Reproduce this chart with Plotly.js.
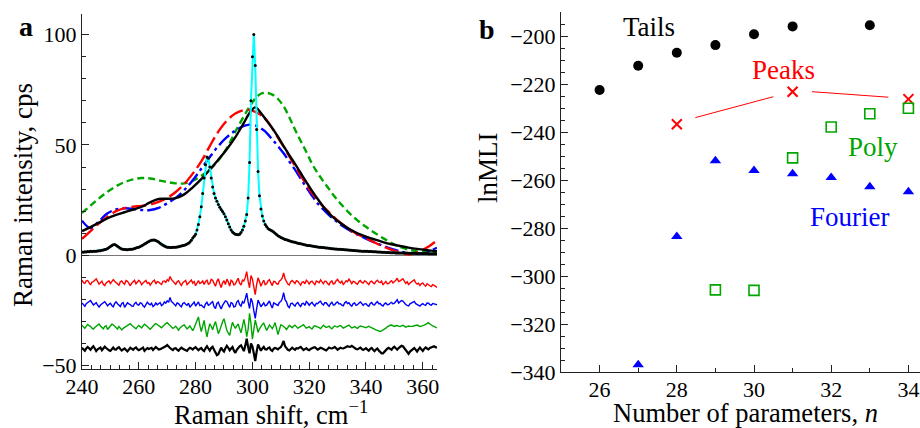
<!DOCTYPE html>
<html><head><meta charset="utf-8">
<script src="https://cdn.plot.ly/plotly-3.0.1.min.js"></script>
<style>html,body{margin:0;padding:0;background:#fff}#chart{width:920px;height:428px}</style>
</head><body><div id="chart"></div><script>
// ---------- Panel a data ----------
const specStart = 240, specStep = 0.5;
const spectrum = [
1.5,1.4,1.6,1.5,1.7,1.6,1.8,1.7,1.8,1.9,
1.9,2.0,2.1,2.1,2.3,2.4,2.6,2.8,3.1,3.5,
4.0,4.5,4.8,4.9,4.6,4.1,3.6,3.2,2.9,2.7,
2.6,2.6,2.5,2.6,2.7,2.8,2.9,3.1,3.3,3.5,
3.7,4.0,4.3,4.7,5.1,5.5,5.9,6.3,6.6,6.8,
6.9,6.9,6.7,6.4,6.0,5.5,5.0,4.6,4.2,3.9,
3.7,3.6,3.5,3.5,3.6,3.6,3.7,3.8,3.9,4.1,
4.2,4.4,4.6,4.8,5.1,5.5,6.0,6.8,7.8,8.6,
9.5,11.5,14.0,17.5,22.0,28.0,35.0,41.0,44.5,44.0,
40.0,35.0,31.0,28.0,26.0,24.5,23.0,21.8,20.8,19.8,
18.8,17.5,16.0,14.3,12.8,11.5,10.6,10.0,9.6,9.4,
9.3,9.6,10.3,11.5,13.2,15.5,18.5,26.0,42.0,70.0,
90.0,100.0,86.0,57.0,38.0,27.0,21.0,17.8,15.5,14.0,
13.0,12.2,11.7,11.3,11.0,10.6,10.0,9.4,8.9,8.5,
8.1,7.8,7.5,7.2,7.0,6.8,6.6,6.4,6.2,6.0,
5.9,5.7,5.5,5.4,5.2,5.1,4.9,4.8,4.6,4.5,
4.4,4.3,4.2,4.1,4.0,3.9,3.8,3.7,3.6,3.5,
3.5,3.4,3.3,3.3,3.2,3.1,3.0,3.0,2.9,2.9,
2.8,2.7,2.7,2.6,2.6,2.5,2.5,2.4,2.4,2.3,
2.3,2.2,2.2,2.1,2.1,2.0,2.0,1.9,1.9,1.9,
1.8,1.8,1.7,1.7,1.7,1.6,1.6,1.6,1.5,1.5,
1.5,1.4,1.4,1.4,1.3,1.3,1.3,1.2,1.2,1.2,
1.2,1.1,1.1,1.1,1.1,1.0,1.0,1.0,1.0,1.0,
0.9,0.9,0.9,0.9,0.9,0.9,0.8,0.8,0.8,0.8,
0.8,0.8,0.8,0.8,0.7,0.7,0.7,0.7,0.7,0.7,
0.7];

const fitX = [240,243,246,249,252,255,258,261,264,267,270,273,276,279,282,285,288,291,294,297,299,301,303,305,307,309,311,313,315,317,319,321,323,325,327,329,331,334,337,340,343,346,349,352,355,358,361,363,365];
const fitTails = [11,12.8,14.8,16.8,18.3,19.5,20.7,22,24,25.5,25.6,25.9,27.6,30.8,34.5,38.8,43.3,48,53.5,60,64.5,67,64.5,61,57.6,53.7,49.5,45.4,41.4,37.3,33.2,29.2,25.5,22,19,16.6,14.6,12,10,8.5,7.2,6,5,4.2,3.5,2.9,2.4,2.1,1.9];
const fitPeaks = [7.4,11,14.5,17.5,20,21.4,22,22.4,23,24.2,26,28.7,32.3,37,42.5,49.5,56,61,64.2,65.8,65.8,65,63.5,61.3,57.5,53.3,49.2,44.8,40.5,36.2,32,28.2,25,22,19.5,17,14.8,11.8,9.6,7.8,5.8,4,2.5,1.2,0.4,1.2,3.2,4.8,6.8];
const fitFourier = [15.7,12.3,15.5,19,20.8,21.3,21,20.5,20.5,21.5,23.5,26,29.5,34,39.2,44.5,49.5,53.5,56.5,58.6,59.2,58.9,57.5,55.5,52.5,49.5,46.2,42.5,38.8,34.8,30.8,27,23.5,20.8,18.2,16,14,11.5,9.4,7.6,5.9,4.3,2.9,1.8,1,0.7,1.3,2.3,3.4];
const fitPoly = [19.2,22.5,25.8,28.8,31.3,33.2,34.4,35,34.8,34,33.2,32.6,32.6,33.8,36,38.8,43,48.5,56,63,67.3,71,73.2,73.6,72.8,70.8,67.5,62.5,57,51.8,46.8,41.5,37.2,33.5,30,26.5,23.5,19.3,15.8,12.9,10.2,7.8,5.6,3.8,2.6,1.8,1.4,1.2,1.1];

// residuals: deviations sampled every 0.5 from 240, drawn around their offsets
const resStart = 240, resStep = 0.5;
const resOffset = {peaks:-12.2, fourier:-22.1, poly:-32.5, tails:-42.4};
const resPeaks = [
1.0,-0.2,-0.5,0.6,0.8,-0.4,-1.2,0.1,0.3,0.9,
1.5,0.4,-0.8,-0.2,0.5,-0.9,-1.5,-0.3,0.2,0.7,
-0.6,0.3,1.2,0.5,-0.3,-1.0,-1.4,0.2,0.6,-0.3,
-0.9,0.8,0.4,-0.5,-1.6,-0.4,0.2,0.9,-0.7,0.1,
0.9,0.2,-1.1,-0.3,0.3,0.8,-0.5,-0.1,-1.3,-0.2,
0.5,1.0,-0.8,0.3,0.1,-0.6,-1.0,0.4,0.6,0.0,
1.2,0.6,2.6,1.3,0.4,-0.3,-0.9,0.2,0.7,-0.5,
-1.4,-0.2,0.3,0.8,-1.1,-0.4,0.5,1.0,-0.4,0.3,
-1.6,-0.5,0.8,-0.6,-0.2,0.6,-1.0,0.3,1.1,-0.9,
-0.6,1.3,0.9,-0.5,-1.8,0.4,1.6,-0.7,-2.4,-0.3,
0.7,-1.0,1.4,0.2,-1.7,0.9,0.4,-1.2,-0.8,0.6,
1.8,-0.4,-1.3,1.0,0.6,2.2,4.8,0.5,-2.5,3.0,
1.5,-2.0,-5.6,-1.0,2.0,0.3,-1.8,-0.2,0.9,-1.1,
-0.7,0.6,1.2,-0.3,-1.5,0.4,0.3,-0.6,-0.9,0.5,
1.0,2.0,4.2,1.6,0.5,-0.8,-1.2,0.3,0.8,-0.2,
-0.6,0.7,0.4,-0.5,-1.3,0.1,0.2,-0.7,0.9,0.3,
-0.8,0.2,0.5,-0.4,-1.1,0.6,0.3,-0.2,1.1,0.4,
-0.7,0.5,0.4,-0.6,-1.2,0.1,0.6,-0.8,-0.5,0.7,
1.3,0.2,-0.3,0.5,-1.0,-0.3,0.7,0.2,1.4,0.5,
-0.6,0.4,0.2,-0.5,-0.9,0.3,0.8,-0.1,-0.4,0.6,
0.3,-0.5,-1.1,0.2,0.5,-0.3,-0.7,0.4,0.9,0.1,
-0.2,0.5,-1.2,-0.4,0.4,-0.7,-0.6,0.2,0.7,-0.3,
0.1,0.9,1.8,0.3,0.6,1.2,1.6,0.5,-0.5,0.2,
-1.0,-0.3,0.3,0.8,1.1,-0.2,-0.8,-0.4,-1.5,-0.6,
-0.4,-1.2,-1.8,-0.7,-1.0,-1.6,-2.0,-1.1,-1.4,-1.9,
-2.3];
const resFourier = [
0.5,-0.3,-1.0,0.2,0.9,1.2,1.6,0.3,-0.4,0.1,
0.7,-0.5,-1.3,-0.4,0.2,0.8,1.1,0.2,-0.8,-0.1,
0.4,-0.6,-1.2,0.3,1.0,0.2,-0.6,-1.1,0.3,0.7,
-1.5,-0.4,0.6,0.1,-0.2,-0.9,-1.0,0.2,0.8,-0.3,
-0.5,0.6,0.4,-0.8,-1.4,-0.2,0.9,0.1,-0.3,0.4,
-1.1,-0.5,0.5,-0.3,0.2,0.7,-0.7,-0.2,1.0,0.4,
1.5,0.8,3.0,1.1,0.6,-0.4,-0.8,0.5,0.2,-0.6,
-1.2,0.3,0.7,-0.1,-0.5,0.4,-1.4,-0.6,0.3,0.9,
-0.9,0.2,1.0,-0.7,-0.4,-1.1,-1.6,0.1,0.8,-0.5,
-0.2,0.6,1.1,-1.2,-2.0,0.3,0.9,-0.8,-2.2,-0.6,
0.5,1.5,1.2,-0.4,-1.5,0.7,0.3,-1.3,-1.0,0.9,
1.6,-0.2,-0.9,1.1,0.4,2.5,5.0,1.0,-2.0,2.6,
1.0,-3.0,-6.5,-2.0,1.8,0.4,-1.2,-0.3,0.6,-0.8,
-0.5,0.5,1.4,-0.4,-1.8,0.6,0.2,-0.5,-0.6,0.7,
1.2,2.4,5.2,2.0,1.0,-0.9,-1.6,0.2,0.5,-0.3,
-0.9,0.3,0.7,-0.4,-1.1,0.2,0.4,-0.6,1.2,0.5,
-0.5,0.3,0.8,-0.2,-0.9,0.4,0.2,0.9,1.3,0.1,
-0.4,0.6,0.6,-0.3,-1.0,0.2,0.9,-0.4,-0.3,0.6,
1.0,0.1,0.2,-0.5,-0.8,0.5,1.1,0.2,0.6,-0.4,
-0.9,0.2,0.5,-0.6,-0.3,0.4,1.0,0.3,-0.6,0.1,
0.2,-0.6,-1.0,0.3,0.7,-0.2,-0.4,0.5,1.1,0.2,
0.3,-0.5,-0.9,0.1,0.5,-0.3,-0.2,0.4,0.8,0.1,
0.4,1.2,2.0,0.5,0.9,1.6,1.4,0.3,-0.2,-0.6,
-0.8,0.1,0.6,1.0,1.2,0.2,-0.3,-0.5,-0.9,-0.2,
0.2,-0.3,-0.6,0.5,0.4,-0.2,-0.5,0.3,0.1,-0.4,
-0.3];
const resPoly = [
0.8,0.1,-0.6,0.4,1.2,0.6,0.3,-0.5,-0.9,-0.2,
0.5,1.0,1.4,0.5,-0.4,-0.8,0.2,0.6,-1.1,-0.3,
0.6,1.3,1.0,0.2,-0.5,-0.9,0.3,-0.4,-1.3,-0.6,
-0.2,0.4,0.9,1.2,1.5,0.8,0.4,-0.2,-0.8,0.1,
0.7,0.2,-0.4,0.5,1.3,0.8,0.1,-0.6,-1.0,-0.3,
0.6,1.1,1.6,1.2,0.9,0.2,-0.3,0.5,1.2,1.6,
2.0,1.3,0.8,0.1,-0.6,-0.2,0.4,-0.5,-1.4,-0.4,
0.3,0.7,1.0,0.2,-0.8,-0.2,0.5,-0.6,-1.6,-0.3,
1.2,3.0,4.6,0.8,-2.0,0.5,3.0,-1.0,-4.5,-1.2,
1.5,0.4,-1.2,0.8,2.5,-0.2,-3.0,-1.5,0.8,2.4,
3.8,1.0,-1.5,-2.8,-3.8,-0.5,2.2,0.6,-0.6,0.5,
1.4,-0.8,-2.6,0.3,3.5,0.2,-4.4,-1.0,6.2,1.5,
-5.5,-1.2,3.2,0.6,-2.4,-0.8,0.6,1.2,1.8,0.2,
-1.5,-0.4,0.9,0.2,-0.7,0.5,2.0,-0.6,-3.4,-1.2,
1.0,0.8,0.4,-0.3,-1.1,-0.2,0.7,0.3,-0.3,0.4,
0.9,0.2,-0.6,-0.1,0.3,0.6,1.1,0.2,-0.5,-0.1,
0.2,-0.4,-0.9,0.1,0.6,0.3,0.1,-0.3,-0.7,0.2,
0.8,0.3,-0.2,0.1,0.4,-0.3,-0.8,0.0,0.5,0.2,
0.0,0.4,0.7,0.1,-0.5,-0.1,0.3,0.6,0.9,0.2,
-0.4,-0.1,0.2,-0.3,-0.6,0.0,0.5,0.3,0.1,-0.2,
-0.3,0.1,0.4,0.0,-0.2,-0.6,-0.9,-1.3,-1.6,-1.9,
-2.0,-1.7,-1.4,-0.9,-0.5,0.1,0.6,0.8,0.9,0.5,
0.3,0.6,0.7,0.4,0.2,0.5,0.8,0.4,-0.1,0.2,
0.5,0.3,0.2,0.4,0.6,0.8,0.9,0.6,0.3,0.4,
0.5,0.9,1.2,1.7,2.0,1.4,0.8,0.5,0.3,0.0,
-0.4];
const resTails = [
0.5,0.0,-0.8,0.2,0.9,0.3,-0.4,0.5,1.2,0.2,
-1.0,-0.2,0.3,0.6,-0.6,0.1,1.0,0.4,-0.2,-0.6,
-0.9,0.1,0.6,-0.2,-0.3,0.4,0.8,0.0,-0.7,-0.2,
0.2,-0.5,-1.1,-0.3,0.5,0.1,-0.4,0.3,0.7,-0.1,
-0.6,-0.2,0.3,0.6,-0.9,-0.3,0.4,0.0,0.1,0.5,
-0.5,0.2,0.9,0.3,-0.3,-0.1,0.2,0.6,0.8,1.2,
1.8,0.9,0.4,-0.1,-0.5,0.2,0.3,-0.3,-0.8,0.0,
0.6,0.1,-0.2,-0.6,-0.9,0.0,0.5,0.2,-0.3,0.4,
0.8,0.1,-0.6,0.0,0.4,-0.5,-1.0,0.3,1.2,0.2,
-0.8,0.4,1.0,-0.4,-1.5,-2.8,-2.4,-0.6,0.6,-0.5,
-1.2,0.3,1.4,0.5,-0.6,0.2,0.9,-0.8,-1.8,-0.4,
0.5,1.2,1.6,0.4,-1.0,1.5,4.6,0.8,-2.0,2.5,
1.2,-2.0,-5.5,-1.2,2.0,0.6,-0.8,0.2,0.9,-0.2,
-0.3,0.4,0.7,-0.5,-0.9,0.1,0.4,0.2,-0.2,0.4,
0.8,2.0,3.6,1.2,0.3,-0.4,-0.7,0.1,0.5,0.0,
-0.4,0.3,0.2,0.6,0.9,0.2,-0.5,-0.1,0.3,-0.3,
-0.6,0.0,0.4,0.6,0.8,0.2,-0.3,0.1,0.5,0.3,
0.1,-0.4,-0.7,0.0,0.6,0.3,0.2,0.5,0.9,0.3,
-0.4,0.1,0.5,0.3,0.2,0.5,0.7,1.2,1.0,0.9,
1.4,0.8,0.4,0.0,-0.2,0.3,0.6,0.0,-0.5,-0.1,
0.3,-0.3,-0.8,0.0,0.4,-0.4,-1.0,-0.3,0.2,-0.7,
-1.6,-2.0,-2.0,-1.2,-0.6,0.1,0.5,0.0,-0.4,0.5,
1.0,0.3,-0.3,0.4,0.8,1.4,1.2,0.2,-0.8,-1.6,
-2.2,-1.2,-0.5,0.0,0.4,-0.3,-1.2,-0.2,0.6,-0.2,
-0.9,0.0,0.7,0.2,-0.2,0.4,0.8,1.0,1.2,0.8,
0.6];

// ---------- Panel b data ----------
const tailsN = [26,27,28,29,30,31,33];
const tailsL = [-222.5,-212.4,-207,-203.8,-199.3,-196,-195.5];
const peaksN = [28,31,34];
const peaksL = [-236.8,-223.2,-226.3];
const peaksLinkN = [28.48,30.5,null,31.5,33.48];
const peaksLinkL = [-234.0,-225.3,null,-223.2,-225.5];
const polyN = [29,30,31,32,33,34];
const polyL = [-305.8,-306,-250.8,-237.9,-232.4,-230.1];
const fourierN = [27,28,29,30,31,32,33,34];
const fourierL = [-337,-283.5,-252,-256,-257.4,-259,-262.8,-264.9];

// ---------- build ----------
const specX = spectrum.map((_, i) => specStart + i * specStep);
const resX = resPeaks.map((_, i) => resStart + i * resStep);
const shift = (arr, off) => arr.map(v => v + off);

const RED = 'rgb(255,0,0)', BLUE = 'rgb(0,0,255)', GREEN = 'rgb(0,165,0)', CYAN = 'rgb(0,255,255)';
const traces = [
  {x: resX, y: shift(resPeaks, resOffset.peaks), mode:'lines', line:{color:RED, width:1.4}},
  {x: resX, y: shift(resFourier, resOffset.fourier), mode:'lines', line:{color:BLUE, width:1.4}},
  {x: resX, y: shift(resPoly, resOffset.poly), mode:'lines', line:{color:GREEN, width:1.4}},
  {x: resX, y: shift(resTails, resOffset.tails), mode:'lines', line:{color:'black', width:2.2}},
  {x: fitX, y: fitPoly, mode:'lines', line:{color:GREEN, width:2.4, dash:'7px,4px', shape:'spline'}},
  {x: fitX, y: fitFourier, mode:'lines', line:{color:BLUE, width:2.4, dash:'14px,4px,3px,4px', shape:'spline'}},
  {x: fitX, y: fitPeaks, mode:'lines', line:{color:RED, width:2.4, dash:'15px,5px', shape:'spline'}},
  {x: fitX, y: fitTails, mode:'lines', line:{color:'black', width:2.4, shape:'spline'}},
  {x: specX, y: spectrum, mode:'lines', line:{color:CYAN, width:2}},
  {x: specX, y: spectrum, mode:'markers', marker:{color:'black', size:3}},
  // panel b
  {x: peaksLinkN, y: peaksLinkL, xaxis:'x2', yaxis:'y2', mode:'lines', line:{color:RED, width:1}, connectgaps:false},
  {x: tailsN, y: tailsL, xaxis:'x2', yaxis:'y2', mode:'markers', marker:{symbol:'circle', size:10, color:'black'}},
  {x: peaksN, y: peaksL, xaxis:'x2', yaxis:'y2', mode:'markers', marker:{symbol:'x-thin', size:10, line:{color:RED, width:2}}},
  {x: polyN, y: polyL, xaxis:'x2', yaxis:'y2', mode:'markers', marker:{symbol:'square-open', size:10, color:GREEN, line:{width:1.6}}},
  {x: fourierN, y: fourierL, xaxis:'x2', yaxis:'y2', mode:'markers', marker:{symbol:'triangle-up', size:10, color:BLUE}}
];

const F = 'Liberation Serif';
const AX = {showgrid:false, showline:true, linecolor:'#222', linewidth:1, ticks:'inside', ticklen:7, tickcolor:'#222', tickwidth:1, zeroline:false, tickfont:{family:F, size:22, color:'black'}};
const layout = {
  width:920, height:428, margin:{l:82, r:0, t:12, b:56},
  paper_bgcolor:'white', plot_bgcolor:'white', showlegend:false,
  font:{family:F, size:22, color:'black'},
  xaxis: Object.assign({}, AX, {domain:[0,0.4236], range:[240,365], anchor:'y',
    tickvals:[240,260,280,300,320,340,360], ticklabelstandoff:-2,
    minor:{tick0:240, dtick:20/6, ticks:'inside', ticklen:4, tickcolor:'#222'}}),
  yaxis: Object.assign({}, AX, {domain:[0.0083,0.9944], range:[-51.5,109.3], anchor:'x',
    tickvals:[-50,0,50,100], zeroline:true, zerolinecolor:'#777', zerolinewidth:1,
    minor:{tick0:0, dtick:10, ticks:'inside', ticklen:4, tickcolor:'#222'}}),
  xaxis2: Object.assign({}, AX, {domain:[0.5716,1], range:[25,34.3], anchor:'y2',
    tickvals:[26,28,30,32,34], ticklabelstandoff:-2,
    minor:{tick0:25, dtick:1, ticks:'inside', ticklen:4, tickcolor:'#222'}}),
  yaxis2: Object.assign({}, AX, {domain:[0,1], range:[-340,-190], anchor:'x2',
    tickvals:[-340,-320,-300,-280,-260,-240,-220,-200],
    minor:{tick0:-200, dtick:5, ticks:'inside', ticklen:4, tickcolor:'#222'}}),
  annotations:[
    {text:'Raman shift, cm<sup>−1</sup>', xref:'paper', yref:'paper', x:0.2255, y:-0.1125, xanchor:'center', yanchor:'middle', showarrow:false, font:{family:F, size:26.5}},
    {text:'Number of parameters, <i>n</i>', xref:'paper', yref:'paper', x:0.7912, y:-0.1125, xanchor:'center', yanchor:'middle', showarrow:false, font:{family:F, size:26.5}},
    {text:'Raman intensity, cps', xref:'paper', yref:'paper', x:-0.0704, y:0.492, xanchor:'center', yanchor:'middle', textangle:-90, showarrow:false, font:{family:F, size:27}},
    {text:'lnMLI', xref:'paper', yref:'paper', x:0.4845, y:0.567, xanchor:'center', yanchor:'middle', textangle:-90, showarrow:false, font:{family:F, size:27}},
    {text:'<b>a</b>', xref:'paper', yref:'paper', x:-0.078, y:1.008, showarrow:false, font:{family:F, size:28}},
    {text:'<b>b</b>', xref:'paper', yref:'paper', x:0.483, y:1.0, showarrow:false, font:{family:F, size:28}},
    {text:'Tails', xref:'x2', yref:'y2', x:27.29, y:-196.3, showarrow:false, font:{family:F, size:27, color:'black'}},
    {text:'Peaks', xref:'x2', yref:'y2', x:30.76, y:-214.2, showarrow:false, font:{family:F, size:27, color:RED}},
    {text:'Poly', xref:'x2', yref:'y2', x:33.08, y:-246.3, showarrow:false, font:{family:F, size:27, color:GREEN}},
    {text:'Fourier', xref:'x2', yref:'y2', x:32.47, y:-275.4, showarrow:false, font:{family:F, size:27, color:BLUE}}
  ]
};
Plotly.newPlot('chart', traces, layout, {staticPlot:true});
</script></body></html>
